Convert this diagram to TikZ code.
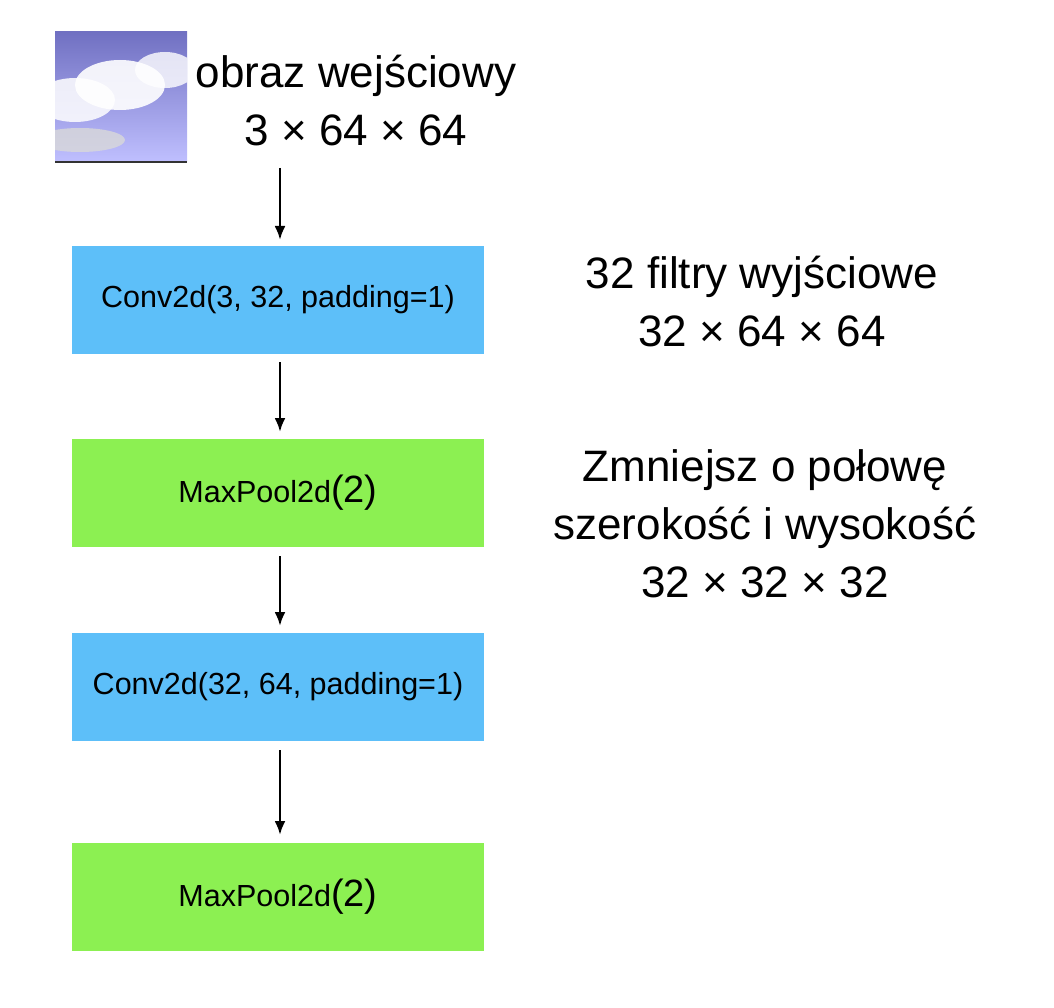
\documentclass[tikz,border=0pt]{standalone}
\usepackage{fontspec}
\setmainfont{Liberation Sans}
\usetikzlibrary{arrows.meta}
\begin{document}
\begin{tikzpicture}[x=1pt,y=-1pt,
 box/.style={draw=none,minimum width=412pt,minimum height=108pt,font=\fontsize{30.5}{33}\selectfont},
 conv/.style={box,fill=blueb},
 pool/.style={box,fill=greenb},
 lbl/.style={align=center,font=\fontsize{44}{58}\selectfont},
 arr/.style={-{Latex[length=14pt,width=11pt]},line width=2.6pt}]
\definecolor{blueb}{HTML}{5DBFF9}
\definecolor{greenb}{HTML}{8CF052}
\useasboundingbox (0,0) rectangle (1054,1008);
% input image
\begin{scope}
\clip (55,32) rectangle (187,162);
\shade[top color=blue!40!gray!80,bottom color=blue!25!white] (55,32) rectangle (187,162);
\fill[white,opacity=0.85] (75,100) ellipse (40 and 22);
\fill[white,opacity=0.9] (120,85) ellipse (45 and 25);
\fill[white,opacity=0.8] (165,70) ellipse (30 and 18);
\fill[gray!30,opacity=0.8] (80,140) ellipse (45 and 12);
\end{scope}
\draw[black!80,line width=2pt] (55,162) -- (187,162);
\node (img) at (121,97) [minimum width=132pt,minimum height=130pt] {};
\node[lbl] (in) at (356,101) {obraz wejściowy\\3 × 64 × 64};
\node[conv] (c1) at (278,300) {Conv2d(3, 32, padding=1)};
\node[pool] (p1) at (278,493) {MaxPool2d{\fontsize{38}{38}\selectfont(2)}};
\node[conv] (c2) at (278,687) {Conv2d(32, 64, padding=1)};
\node[pool] (p2) at (278,897) {MaxPool2d{\fontsize{38}{38}\selectfont(2)}};
\node[lbl] (t1) at (762,302) {32 filtry wyjściowe\\32 × 64 × 64};
\node[lbl] (t2) at (765,524) {Zmniejsz o połowę\\szerokość i wysokość\\32 × 32 × 32};
\coordinate (a0) at (280,168);
\coordinate (a1) at (280,240);
\coordinate (b0) at (280,362);
\coordinate (b1) at (280,432);
\coordinate (c0) at (280,556);
\coordinate (c1e) at (280,626);
\coordinate (d0) at (280,750);
\coordinate (d1) at (280,835);
\draw[arr] (a0) -- (a1);
\draw[arr] (b0) -- (b1);
\draw[arr] (c0) -- (c1e);
\draw[arr] (d0) -- (d1);
\end{tikzpicture}
\end{document}
